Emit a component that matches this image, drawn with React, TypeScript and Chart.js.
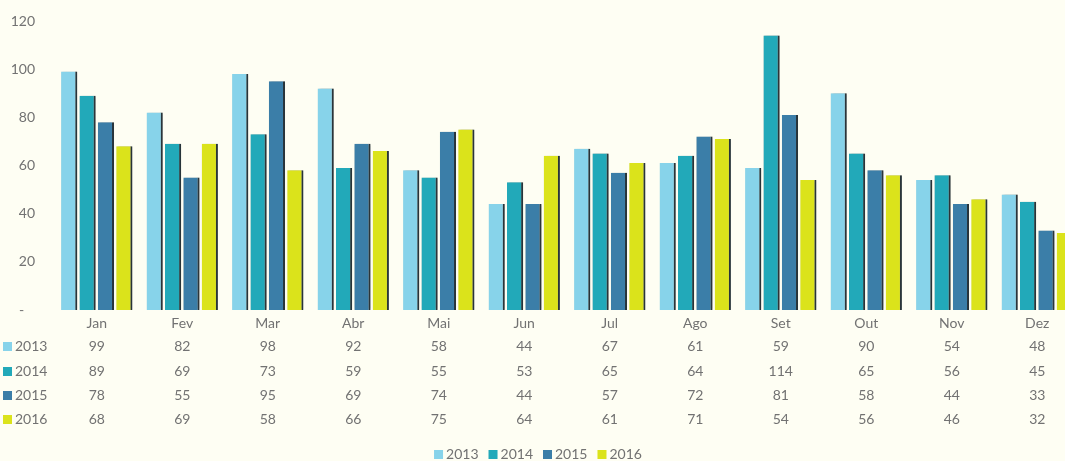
import React, { useEffect, useRef } from "react";
import { Chart, registerables } from "chart.js";

Chart.register(...registerables);

const MONTHS = ["Jan", "Fev", "Mar", "Abr", "Mai", "Jun", "Jul", "Ago", "Set", "Out", "Nov", "Dez"];
const YEARS = ["2013", "2014", "2015", "2016"];
const V2013 = [99, 82, 98, 92, 58, 44, 67, 61, 59, 90, 54, 48];
const V2014 = [89, 69, 73, 59, 55, 53, 65, 64, 114, 65, 56, 45];
const V2015 = [78, 55, 95, 69, 74, 44, 57, 72, 81, 58, 44, 33];
const V2016 = [68, 69, 58, 66, 75, 64, 61, 71, 54, 56, 46, 32];
const SERIES = [V2013, V2014, V2015, V2016];
const COLORS = ["#87d3ea", "#22a9b9", "#3b7ea8", "#dbe31b"];
const Y_TICKS_MAX = 120;
const Y_STEP = 20;

const FONT = "Lato, 'Open Sans', sans-serif";
const TEXT_COLOR = "#727272";
const BG = "#fefef3";
const VIEW_W = 1065;
const CANVAS_W = 1086;
const CANVAS_H = 461;

const bgPlugin = {
  id: "bg",
  beforeDraw(chart: any) {
    const ctx = chart.ctx;
    ctx.save();
    ctx.fillStyle = BG;
    ctx.fillRect(0, 0, chart.width, chart.height);
    ctx.restore();
  },
};

const shadowPlugin = {
  id: "barShadow",
  beforeDatasetsDraw(chart: any) {
    const ctx = chart.ctx;
    ctx.save();
    ctx.shadowColor = "rgba(60,60,60,0.45)";
    ctx.shadowBlur = 3;
    ctx.shadowOffsetX = 1;
    ctx.shadowOffsetY = 0;
  },
  afterDatasetsDraw(chart: any) {
    chart.ctx.restore();
  },
};

const tablePlugin = {
  id: "dataTable",
  afterDraw(chart: any) {
    const ctx = chart.ctx;
    const xs = chart.scales.x;
    const bottom = chart.chartArea.bottom;
    const rowOffsets = [36, 61, 85, 109];
    ctx.save();
    ctx.font = `14px ${FONT}`;
    ctx.textBaseline = "middle";
    YEARS.forEach((yr, r) => {
      const y = bottom + rowOffsets[r];
      ctx.fillStyle = COLORS[r];
      ctx.fillRect(3, y - 4, 9, 9);
      ctx.fillStyle = TEXT_COLOR;
      ctx.textAlign = "left";
      ctx.fillText(yr, 15, y);
      ctx.textAlign = "center";
      SERIES[r].forEach((v, i) => {
        ctx.fillText(String(v), xs.getPixelForValue(i), y);
      });
    });

    // legend
    const ly = bottom + 144;
    const box = 9;
    const gap = 3;
    const itemGap = 10;
    const widths = YEARS.map((t) => box + gap + ctx.measureText(t).width);
    const total = widths.reduce((a, b) => a + b, 0) + itemGap * (YEARS.length - 1);
    let x = 538 - total / 2;
    YEARS.forEach((t, i) => {
      ctx.fillStyle = COLORS[i];
      ctx.fillRect(x, ly - 4, box, box);
      ctx.fillStyle = TEXT_COLOR;
      ctx.textAlign = "left";
      ctx.fillText(t, x + box + gap, ly);
      x += widths[i] + itemGap;
    });
    ctx.restore();
  },
};

export default function App() {
  const ref = useRef<HTMLCanvasElement | null>(null);
  useEffect(() => {
    if (!ref.current) return;
    const chart = new Chart(ref.current, {
      type: "bar",
      data: {
        labels: MONTHS,
        datasets: YEARS.map((yr, i) => ({
          label: yr,
          data: SERIES[i],
          backgroundColor: COLORS[i],
          borderColor: "#26343a",
          borderWidth: { top: 0, left: 0, bottom: 0, right: 2 },
          borderSkipped: false,
          categoryPercentage: 0.86,
          barPercentage: 0.88,
        })),
      },
      options: {
        responsive: false,
        animation: false,
        devicePixelRatio: 1,
        layout: { padding: { top: 21, right: 6, left: 0, bottom: 0 } },
        plugins: { legend: { display: false }, tooltip: { enabled: false } },
        scales: {
          x: {
            grid: { display: false, drawTicks: false },
            border: { display: false },
            ticks: {
              color: TEXT_COLOR,
              font: { family: FONT, size: 14 },
              padding: 5,
              maxRotation: 0,
            },
            afterFit(scale: any) {
              scale.height = 151;
            },
          },
          y: {
            min: 0,
            max: Y_TICKS_MAX,
            grid: { display: false, drawTicks: false },
            border: { display: false },
            ticks: {
              stepSize: Y_STEP,
              color: TEXT_COLOR,
              font: { family: FONT, size: 14 },
              padding: 19,
              callback: (v: any) => (v === 0 ? "-   " : String(v)),
            },
            afterFit(scale: any) {
              scale.width = 54;
              scale.paddingTop = 0;
              scale.paddingBottom = 0;
            },
          },
        },
      },
      plugins: [bgPlugin, shadowPlugin, tablePlugin],
    });
    return () => chart.destroy();
  }, []);
  return (
    <div
      style={{
        position: "fixed",
        left: 0,
        top: 0,
        width: VIEW_W,
        height: CANVAS_H,
        overflow: "hidden",
        background: BG,
      }}
    >
      <canvas ref={ref} width={CANVAS_W} height={CANVAS_H} style={{ display: "block" }} />
    </div>
  );
}
